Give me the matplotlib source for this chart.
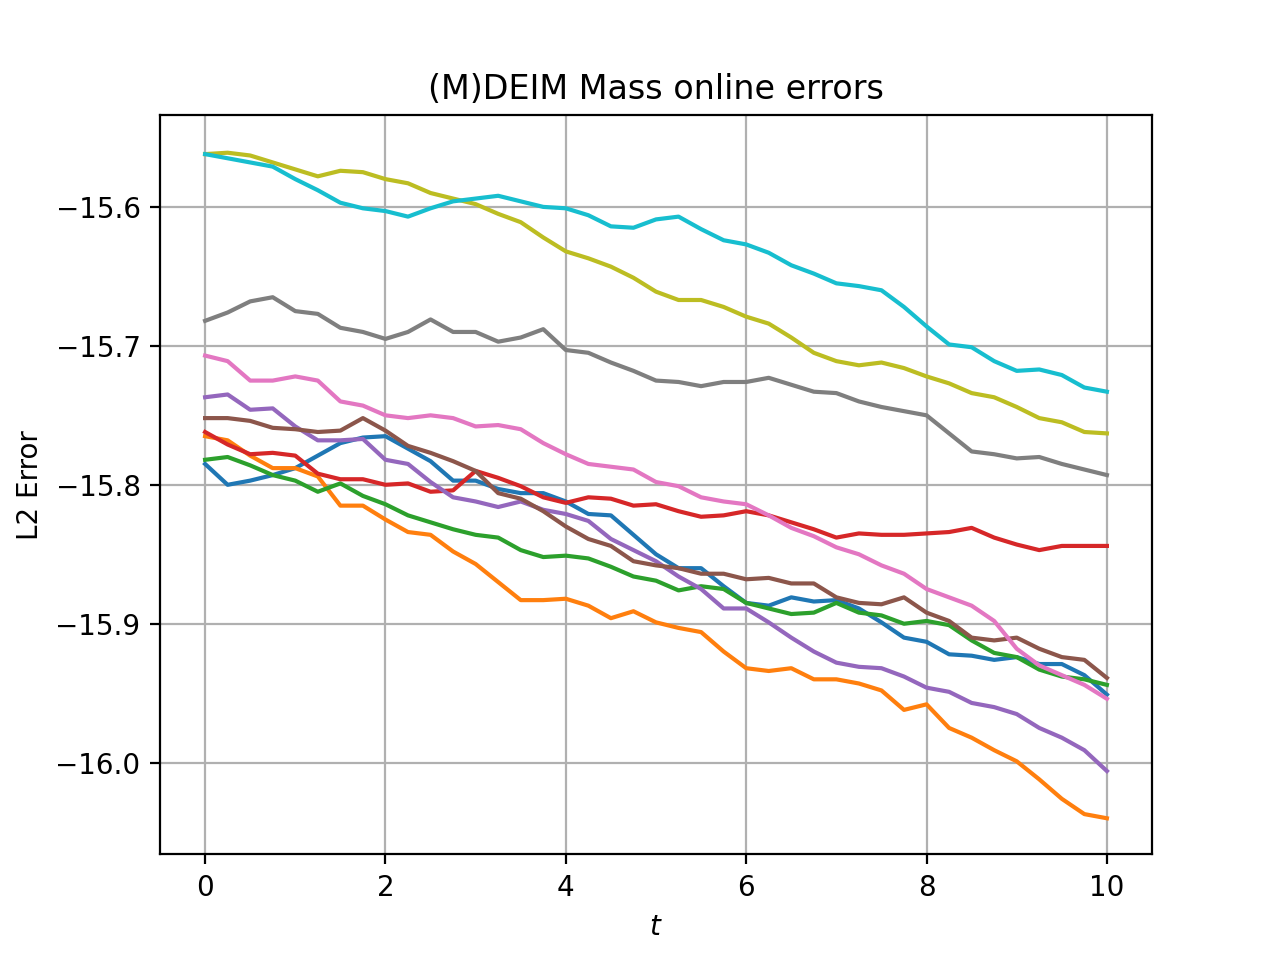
import numpy as np
import matplotlib

matplotlib.use("Agg")
import matplotlib.pyplot as plt

# time samples (every 0.25) and L2 errors, one list per run
t = np.linspace(0, 10, 41)

err_blue = [-15.785, -15.800, -15.797, -15.793, -15.788, -15.779, -15.770, -15.766, -15.765, -15.774,
            -15.783, -15.797, -15.797, -15.803, -15.806, -15.806, -15.812, -15.821, -15.822, -15.836,
            -15.850, -15.860, -15.860, -15.873, -15.885, -15.887, -15.881, -15.884, -15.883, -15.889,
            -15.899, -15.910, -15.913, -15.922, -15.923, -15.926, -15.924, -15.929, -15.929, -15.937,
            -15.951]
err_orange = [-15.765, -15.768, -15.779, -15.788, -15.788, -15.794, -15.815, -15.815, -15.825, -15.834,
              -15.836, -15.848, -15.857, -15.870, -15.883, -15.883, -15.882, -15.887, -15.896, -15.891,
              -15.899, -15.903, -15.906, -15.920, -15.932, -15.934, -15.932, -15.940, -15.940, -15.943,
              -15.948, -15.962, -15.958, -15.975, -15.982, -15.991, -15.999, -16.012, -16.026, -16.037,
              -16.040]
err_green = [-15.782, -15.780, -15.786, -15.793, -15.797, -15.805, -15.799, -15.808, -15.814, -15.822,
             -15.827, -15.832, -15.836, -15.838, -15.847, -15.852, -15.851, -15.853, -15.859, -15.866,
             -15.869, -15.876, -15.873, -15.875, -15.885, -15.889, -15.893, -15.892, -15.885, -15.892,
             -15.894, -15.900, -15.898, -15.901, -15.912, -15.921, -15.924, -15.933, -15.938, -15.940,
             -15.944]
err_red = [-15.762, -15.771, -15.778, -15.777, -15.779, -15.792, -15.796, -15.796, -15.800, -15.799,
           -15.805, -15.804, -15.790, -15.795, -15.801, -15.809, -15.813, -15.809, -15.810, -15.815,
           -15.814, -15.819, -15.823, -15.822, -15.819, -15.822, -15.827, -15.832, -15.838, -15.835,
           -15.836, -15.836, -15.835, -15.834, -15.831, -15.838, -15.843, -15.847, -15.844, -15.844,
           -15.844]
err_purple = [-15.737, -15.735, -15.746, -15.745, -15.758, -15.768, -15.768, -15.767, -15.782, -15.785,
              -15.798, -15.809, -15.812, -15.816, -15.812, -15.818, -15.821, -15.826, -15.839, -15.847,
              -15.855, -15.866, -15.875, -15.889, -15.889, -15.899, -15.910, -15.920, -15.928, -15.931,
              -15.932, -15.938, -15.946, -15.949, -15.957, -15.960, -15.965, -15.975, -15.982, -15.991,
              -16.006]
err_brown = [-15.752, -15.752, -15.754, -15.759, -15.760, -15.762, -15.761, -15.752, -15.761, -15.772,
             -15.777, -15.783, -15.790, -15.806, -15.810, -15.819, -15.830, -15.839, -15.844, -15.855,
             -15.858, -15.860, -15.864, -15.864, -15.868, -15.867, -15.871, -15.871, -15.881, -15.885,
             -15.886, -15.881, -15.892, -15.898, -15.910, -15.912, -15.910, -15.918, -15.924, -15.926,
             -15.939]
err_pink = [-15.707, -15.711, -15.725, -15.725, -15.722, -15.725, -15.740, -15.743, -15.750, -15.752,
            -15.750, -15.752, -15.758, -15.757, -15.760, -15.770, -15.778, -15.785, -15.787, -15.789,
            -15.798, -15.801, -15.809, -15.812, -15.814, -15.822, -15.831, -15.837, -15.845, -15.850,
            -15.858, -15.864, -15.875, -15.881, -15.887, -15.898, -15.918, -15.930, -15.937, -15.944,
            -15.954]
err_gray = [-15.682, -15.676, -15.668, -15.665, -15.675, -15.677, -15.687, -15.690, -15.695, -15.690,
            -15.681, -15.690, -15.690, -15.697, -15.694, -15.688, -15.703, -15.705, -15.712, -15.718,
            -15.725, -15.726, -15.729, -15.726, -15.726, -15.723, -15.728, -15.733, -15.734, -15.740,
            -15.744, -15.747, -15.750, -15.763, -15.776, -15.778, -15.781, -15.780, -15.785, -15.789,
            -15.793]
err_olive = [-15.562, -15.561, -15.563, -15.568, -15.573, -15.578, -15.574, -15.575, -15.580, -15.583,
             -15.590, -15.594, -15.598, -15.605, -15.611, -15.622, -15.632, -15.637, -15.643, -15.651,
             -15.661, -15.667, -15.667, -15.672, -15.679, -15.684, -15.694, -15.705, -15.711, -15.714,
             -15.712, -15.716, -15.722, -15.727, -15.734, -15.737, -15.744, -15.752, -15.755, -15.762,
             -15.763]
err_cyan = [-15.562, -15.565, -15.568, -15.571, -15.580, -15.588, -15.597, -15.601, -15.603, -15.607,
            -15.601, -15.596, -15.594, -15.592, -15.596, -15.600, -15.601, -15.606, -15.614, -15.615,
            -15.609, -15.607, -15.616, -15.624, -15.627, -15.633, -15.642, -15.648, -15.655, -15.657,
            -15.660, -15.672, -15.686, -15.699, -15.701, -15.711, -15.718, -15.717, -15.721, -15.730,
            -15.733]

runs = [err_blue, err_orange, err_green, err_red, err_purple,
        err_brown, err_pink, err_gray, err_olive, err_cyan]

fig, ax = plt.subplots(figsize=(6.4, 4.8), dpi=200)

# default colour cycle gives the same tab10 order as the reference
for err in runs:
    ax.plot(t, err)

ax.set_ylim(-16.066, -15.534)
ax.set_title("(M)DEIM Mass online errors")
ax.set_xlabel("$t$")
ax.set_ylabel("L2 Error")
ax.grid(True)

fig.savefig("out.png", dpi=200)
